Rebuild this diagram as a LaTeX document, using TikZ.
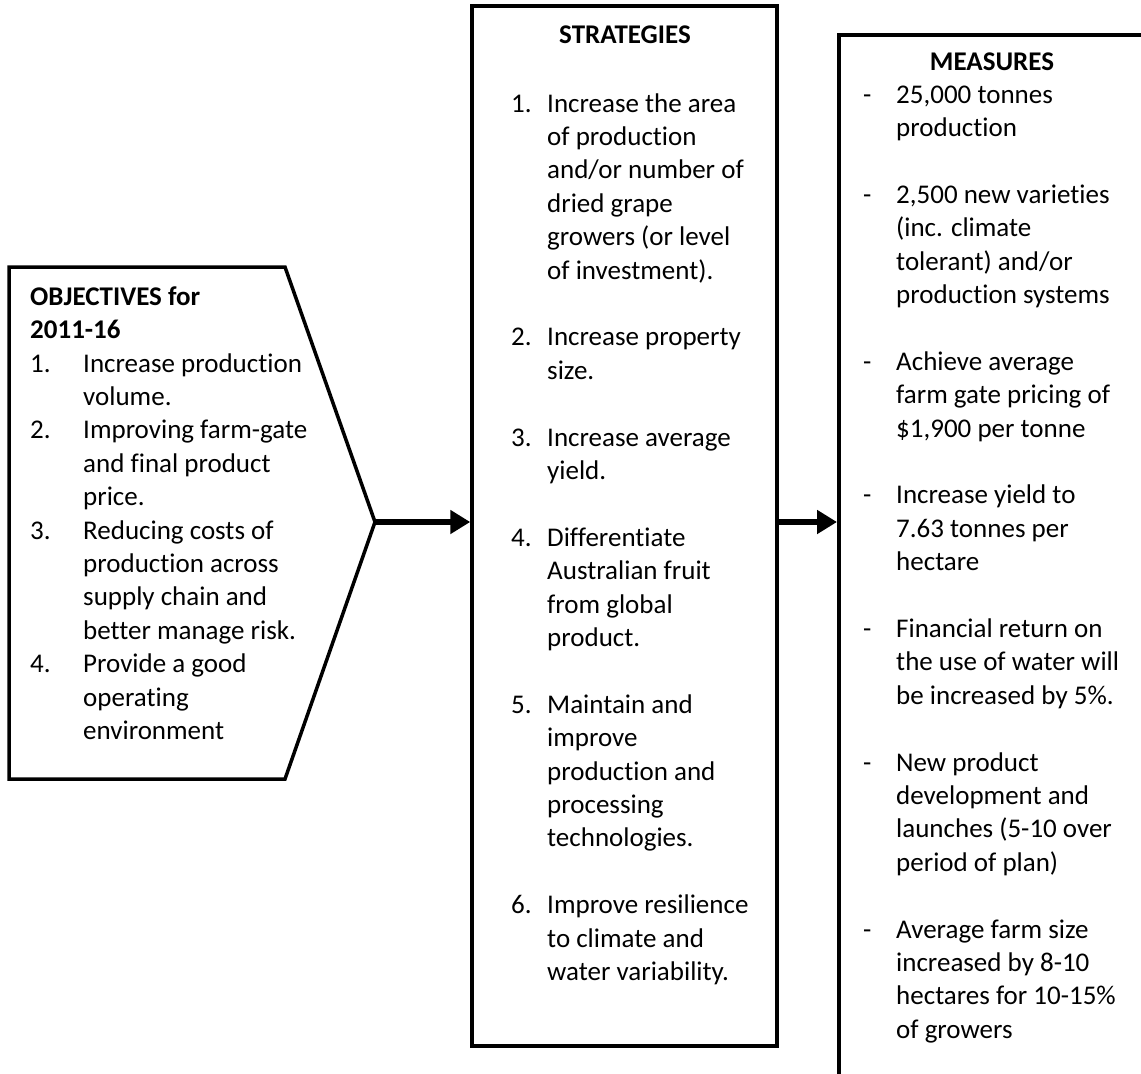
\documentclass[tikz,border=0pt]{standalone}
\usepackage{fontspec}
\setmainfont{Carlito}[Ligatures=NoCommon]
\usetikzlibrary{arrows.meta}

\tikzset{
  body/.style={font=\fontsize{27}{33.4}\selectfont, inner sep=0pt, anchor=base west},
  block/.style={body, text width=320pt, align=flush left},
  heading/.style={font=\fontsize{27}{33.4}\selectfont\bfseries, inner sep=0pt},
  frame/.style={draw=black, line width=3.5pt},
  flow/.style={line width=6.5pt, -{Triangle[length=20pt, width=23pt]}}
}

\begin{document}
\begin{tikzpicture}[x=1pt, y=-1pt]
\useasboundingbox (0,0) rectangle (1141,1074);

% objectives: pentagon pointing right
\coordinate (objtip) at (375,522);
\draw[frame, line join=miter] (9,267) -- (285,267) -- (objtip) -- (285,779) -- (9,779) -- cycle;

\node[block, font=\fontsize{27}{33.4}\selectfont\bfseries] (objhead) at (30,305) {OBJECTIVES for\\2011-16};
\node[body] (on1) at (30,372) {1.};
\node[block] (ot1) at (83,372) {Increase production\\volume.};
\node[body] (on2) at (30,438.8) {2.};
\node[block] (ot2) at (83,438.8) {Improving farm-gate\\and final product\\price.};
\node[body] (on3) at (30,539) {3.};
\node[block] (ot3) at (83,539) {Reducing costs of\\production across\\supply chain and\\better manage risk.};
\node[body] (on4) at (30,672.6) {4.};
\node[block] (ot4) at (83,672.6) {Provide a good\\operating\\environment};

% strategies column
\node[frame, minimum width=305pt, minimum height=1040pt, inner sep=0pt] (strat) at (624.5,526) {};
\node[heading, anchor=base] (sthead) at (625,43) {STRATEGIES};
\node[body] (sn1) at (511,112) {1.};
\node[block] (st1) at (547,112) {Increase the area\\of production\\and/or number of\\dried grape\\growers (or level\\of investment).};
\node[body] (sn2) at (511,345.8) {2.};
\node[block] (st2) at (547,345.8) {Increase property\\size.};
\node[body] (sn3) at (511,446) {3.};
\node[block] (st3) at (547,446) {Increase average\\yield.};
\node[body] (sn4) at (511,546.2) {4.};
\node[block] (st4) at (547,546.2) {Differentiate\\Australian fruit\\from global\\product.};
\node[body] (sn5) at (511,713.2) {5.};
\node[block] (st5) at (547,713.2) {Maintain and\\improve\\production and\\processing\\technologies.};
\node[body] (sn6) at (511,913.6) {6.};
\node[block] (st6) at (547,913.6) {Improve resilience\\to climate and\\water variability.};

% measures column, open to the right and below
\coordinate (mtr) at (1141,35);
\coordinate (mtl) at (839,35);
\coordinate (mbl) at (839,1074);
\draw[frame, line join=miter] (mtr) -- (mtl) -- (mbl);
\node[heading, anchor=base] (mshead) at (992,70) {MEASURES};
\node[body] (mn1) at (863,103) {-};
\node[block] (mt1) at (896,103) {25,000 tonnes\\production};
\node[body] (mn2) at (863,203.2) {-};
\node[block] (mt2) at (896,203.2) {2,500 new varieties\\(inc. climate\\tolerant) and/or\\production systems};
\node[body] (mn3) at (863,370.2) {-};
\node[block] (mt3) at (896,370.2) {Achieve average\\farm gate pricing of\\\$1,900 per tonne};
\node[body] (mn4) at (863,503.8) {-};
\node[block] (mt4) at (896,503.8) {Increase yield to\\7.63 tonnes per\\hectare};
\node[body] (mn5) at (863,637.4) {-};
\node[block] (mt5) at (896,637.4) {Financial return on\\the use of water will\\be increased by 5\%.};
\node[body] (mn6) at (863,771) {-};
\node[block] (mt6) at (896,771) {New product\\development and\\launches (5-10 over\\period of plan)};
\node[body] (mn7) at (863,938) {-};
\node[block] (mt7) at (896,938) {Average farm size\\increased by 8-10\\hectares for 10-15\%\\of growers};

% flow arrows
\coordinate (mleft) at (837,522);
\draw[flow] (objtip) -- (strat.west |- objtip);
\draw[flow] (strat.east |- objtip) -- (mleft);
\end{tikzpicture}
\end{document}
